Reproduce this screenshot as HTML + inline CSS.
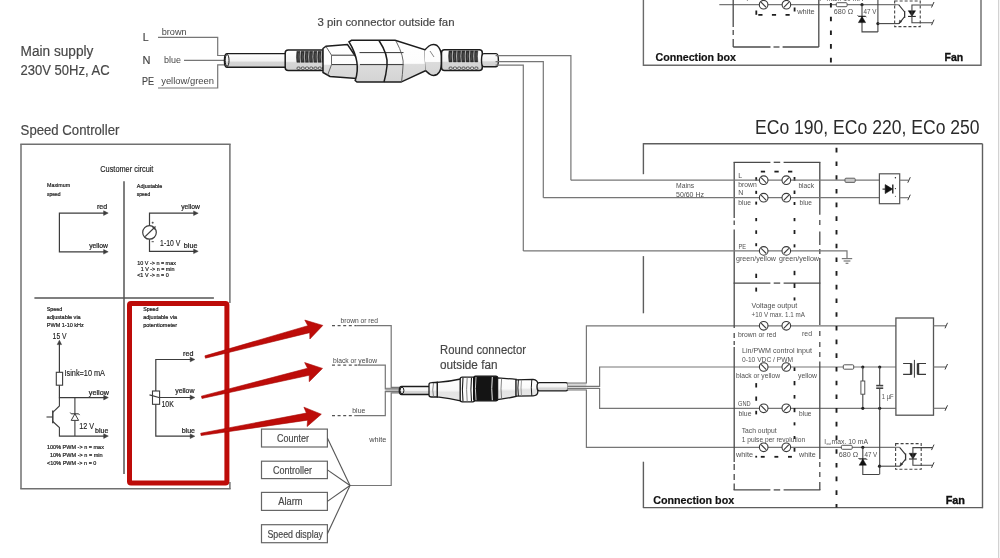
<!DOCTYPE html>
<html><head><meta charset="utf-8"><style>
html,body{margin:0;padding:0;background:#fff;width:1000px;height:558px;overflow:hidden}
svg{display:block;font-family:"Liberation Sans",sans-serif;will-change:transform}
</style></head><body>
<svg width="1000" height="558" viewBox="0 0 1000 558">
<defs>
<linearGradient id="gc" x1="0" y1="0" x2="0" y2="1">
<stop offset="0" stop-color="#ffffff"/><stop offset="0.55" stop-color="#f2f2f2"/><stop offset="0.62" stop-color="#d6d6d6"/><stop offset="1" stop-color="#d0d0d0"/></linearGradient>
<linearGradient id="gn" x1="0" y1="0" x2="0" y2="1">
<stop offset="0" stop-color="#ffffff"/><stop offset="0.58" stop-color="#fdfdfd"/><stop offset="0.61" stop-color="#dedede"/><stop offset="1" stop-color="#d6d6d6"/></linearGradient>
<linearGradient id="gb2" x1="0" y1="0" x2="0" y2="1">
<stop offset="0" stop-color="#ffffff"/><stop offset="0.55" stop-color="#fdfdfd"/><stop offset="0.58" stop-color="#dcdcdc"/><stop offset="1" stop-color="#d4d4d4"/></linearGradient>
<linearGradient id="gb3" x1="0" y1="0" x2="0" y2="1">
<stop offset="0" stop-color="#ffffff"/><stop offset="0.5" stop-color="#fafafa"/><stop offset="0.62" stop-color="#e4e4e4"/><stop offset="1" stop-color="#e8e8e8"/></linearGradient>
<linearGradient id="gb" x1="0" y1="0" x2="0" y2="1">
<stop offset="0" stop-color="#ffffff"/><stop offset="0.58" stop-color="#fbfbfb"/><stop offset="0.6" stop-color="#dadada"/><stop offset="1" stop-color="#d2d2d2"/></linearGradient>
</defs>
<rect width="1000" height="558" fill="#fff"/>
<text x="20.6" y="56" font-size="14" fill="#474747" textLength="72.8" lengthAdjust="spacingAndGlyphs" stroke="#474747" stroke-width="0.18">Main supply</text>
<text x="20.6" y="74.6" font-size="14" fill="#474747" textLength="89" lengthAdjust="spacingAndGlyphs" stroke="#474747" stroke-width="0.18">230V 50Hz, AC</text>
<text x="20.6" y="134.8" font-size="14" fill="#474747" textLength="98.8" lengthAdjust="spacingAndGlyphs" stroke="#474747" stroke-width="0.18">Speed Controller</text>
<text x="142.8" y="40.8" font-size="10.5" fill="#474747" stroke="#474747" stroke-width="0.18">L</text>
<text x="142.6" y="63.5" font-size="11" fill="#474747" stroke="#474747" stroke-width="0.18">N</text>
<text x="142" y="84.8" font-size="11.5" fill="#474747" textLength="12" lengthAdjust="spacingAndGlyphs" stroke="#474747" stroke-width="0.18">PE</text>
<text x="161.7" y="35" font-size="9" fill="#474747" textLength="25" lengthAdjust="spacingAndGlyphs">brown</text>
<text x="164" y="62.8" font-size="9" fill="#474747" textLength="17" lengthAdjust="spacingAndGlyphs">blue</text>
<text x="161.2" y="84.3" font-size="9" fill="#474747" textLength="52.8" lengthAdjust="spacingAndGlyphs">yellow/green</text>
<polyline points="158,37.3 217.7,37.3 217.7,55.5 225,55.5" fill="none" stroke="#767676" stroke-width="1.2"/>
<line x1="184" y1="60.3" x2="225" y2="60.3" stroke="#767676" stroke-width="1.2"/>
<polyline points="158,88 217.7,88 217.7,64.8 225,64.8" fill="none" stroke="#767676" stroke-width="1.2"/>
<text x="317.5" y="26.4" font-size="11.2" fill="#474747" textLength="137" lengthAdjust="spacingAndGlyphs" stroke="#474747" stroke-width="0.18">3 pin connector outside fan</text>
<polyline points="643.4,0 643.4,65.3 981,65.3 981,0" fill="none" stroke="#6a6a6a" stroke-width="1.4"/>
<text x="755" y="134" font-size="20" fill="#2b2b2b" textLength="224.6" lengthAdjust="spacingAndGlyphs">ECo 190, ECo 220, ECo 250</text>
<path d="M 288 53.6 L 226.8 53.6 A 2.4 6.8 0 0 0 226.8 67.2 L 288 67.2 Z" fill="url(#gc)" stroke="#1c1c1c" stroke-width="1.4"/>
<ellipse cx="227.1" cy="60.4" rx="1.92" ry="6" fill="none" stroke="#1c1c1c" stroke-width="1"/>
<rect x="285.2" y="50.1" width="42.3" height="20.3" rx="3" fill="url(#gc)" stroke="#1c1c1c" stroke-width="1.5"/>
<path d="M 296.9 51.3 Q 296 56.6 296.9 62.3 L 300 62.3 Q 299.1 56.6 300 51.3 Z" fill="#333" stroke="#222" stroke-width="0.5"/>
<line x1="298.4" y1="53.1" x2="298.1" y2="60.6" stroke="#6a6a6a" stroke-width="0.5"/>
<rect x="297" y="67.1" width="3.05" height="2.2" rx="0.9" fill="#fff" stroke="#2a2a2a" stroke-width="0.8"/>
<path d="M 301.14 51.3 Q 300.24 56.6 301.14 62.3 L 304.24 62.3 Q 303.34 56.6 304.24 51.3 Z" fill="#333" stroke="#222" stroke-width="0.5"/>
<line x1="302.64" y1="53.1" x2="302.34" y2="60.6" stroke="#6a6a6a" stroke-width="0.5"/>
<rect x="301.24" y="67.1" width="3.05" height="2.2" rx="0.9" fill="#fff" stroke="#2a2a2a" stroke-width="0.8"/>
<path d="M 305.39 51.3 Q 304.49 56.6 305.39 62.3 L 308.49 62.3 Q 307.59 56.6 308.49 51.3 Z" fill="#333" stroke="#222" stroke-width="0.5"/>
<line x1="306.89" y1="53.1" x2="306.59" y2="60.6" stroke="#6a6a6a" stroke-width="0.5"/>
<rect x="305.49" y="67.1" width="3.05" height="2.2" rx="0.9" fill="#fff" stroke="#2a2a2a" stroke-width="0.8"/>
<path d="M 309.63 51.3 Q 308.73 56.6 309.63 62.3 L 312.73 62.3 Q 311.83 56.6 312.73 51.3 Z" fill="#333" stroke="#222" stroke-width="0.5"/>
<line x1="311.13" y1="53.1" x2="310.83" y2="60.6" stroke="#6a6a6a" stroke-width="0.5"/>
<rect x="309.73" y="67.1" width="3.05" height="2.2" rx="0.9" fill="#fff" stroke="#2a2a2a" stroke-width="0.8"/>
<path d="M 313.87 51.3 Q 312.97 56.6 313.87 62.3 L 316.97 62.3 Q 316.07 56.6 316.97 51.3 Z" fill="#333" stroke="#222" stroke-width="0.5"/>
<line x1="315.37" y1="53.1" x2="315.07" y2="60.6" stroke="#6a6a6a" stroke-width="0.5"/>
<rect x="313.97" y="67.1" width="3.05" height="2.2" rx="0.9" fill="#fff" stroke="#2a2a2a" stroke-width="0.8"/>
<path d="M 318.11 51.3 Q 317.21 56.6 318.11 62.3 L 321.21 62.3 Q 320.31 56.6 321.21 51.3 Z" fill="#333" stroke="#222" stroke-width="0.5"/>
<line x1="319.61" y1="53.1" x2="319.31" y2="60.6" stroke="#6a6a6a" stroke-width="0.5"/>
<rect x="318.21" y="67.1" width="3.05" height="2.2" rx="0.9" fill="#fff" stroke="#2a2a2a" stroke-width="0.8"/>
<path d="M 322.36 51.3 Q 321.46 56.6 322.36 62.3 L 325.46 62.3 Q 324.56 56.6 325.46 51.3 Z" fill="#333" stroke="#222" stroke-width="0.5"/>
<line x1="323.86" y1="53.1" x2="323.56" y2="60.6" stroke="#6a6a6a" stroke-width="0.5"/>
<rect x="322.46" y="67.1" width="3.05" height="2.2" rx="0.9" fill="#fff" stroke="#2a2a2a" stroke-width="0.8"/>
<polygon points="323,48.5 326,46.2 347.5,44.5 360,63 356.5,78.5 330,76.5 323,72.5" fill="url(#gn)" stroke="#1c1c1c" stroke-width="1.5"/>
<line x1="331.5" y1="55.2" x2="359" y2="55.2" stroke="#333" stroke-width="1"/>
<line x1="331.5" y1="64.6" x2="359.5" y2="64.6" stroke="#333" stroke-width="1"/>
<polyline points="326,46.5 331.5,55.2 331.5,64.6 327.5,75.5" fill="none" stroke="#555" stroke-width="0.9"/>
<path d="M 349 41.8 L 351.5 40.3 L 395.1 40.3 L 425.1 49.9 L 426 70.5 L 401 82.1 L 357 82.1 L 355.2 80.6 Q 361.5 62 349 41.8 Z" fill="url(#gb2)" stroke="#1c1c1c" stroke-width="1.5"/>
<line x1="359.5" y1="52.6" x2="403.5" y2="52.6" stroke="#333" stroke-width="1"/>
<line x1="360" y1="64.6" x2="403.5" y2="64.6" stroke="#333" stroke-width="1"/>
<path d="M 379 40.5 Q 388.5 55 387 66 Q 386 75 384 82" fill="none" stroke="#1c1c1c" stroke-width="1.5"/>
<path d="M 396 41 Q 404.5 57 403 66 Q 402.5 75 401.5 82" fill="none" stroke="#555" stroke-width="0.9"/>
<path d="M 424.5 50.2 Q 427 47.6 429 46 Q 433 43.2 437 45.5 Q 441 49 441.5 56 L 441.5 64 Q 441 72 437 74.5 Q 433 76.5 429.5 74 Q 427.5 72.7 425.5 70.6" fill="url(#gb2)" stroke="#1c1c1c" stroke-width="1.5"/>
<line x1="430" y1="51" x2="434" y2="57" stroke="#666" stroke-width="0.8"/>
<rect x="441.5" y="49.7" width="40.8" height="20.7" rx="3" fill="url(#gc)" stroke="#1c1c1c" stroke-width="1.5"/>
<path d="M 449 50.9 Q 448.1 56.2 449 61.9 L 452.1 61.9 Q 451.2 56.2 452.1 50.9 Z" fill="#333" stroke="#222" stroke-width="0.5"/>
<line x1="450.5" y1="52.7" x2="450.2" y2="60.2" stroke="#6a6a6a" stroke-width="0.5"/>
<rect x="449.1" y="67.1" width="3.09" height="2.2" rx="0.9" fill="#fff" stroke="#2a2a2a" stroke-width="0.8"/>
<path d="M 453.29 50.9 Q 452.39 56.2 453.29 61.9 L 456.39 61.9 Q 455.49 56.2 456.39 50.9 Z" fill="#333" stroke="#222" stroke-width="0.5"/>
<line x1="454.79" y1="52.7" x2="454.49" y2="60.2" stroke="#6a6a6a" stroke-width="0.5"/>
<rect x="453.39" y="67.1" width="3.09" height="2.2" rx="0.9" fill="#fff" stroke="#2a2a2a" stroke-width="0.8"/>
<path d="M 457.57 50.9 Q 456.67 56.2 457.57 61.9 L 460.67 61.9 Q 459.77 56.2 460.67 50.9 Z" fill="#333" stroke="#222" stroke-width="0.5"/>
<line x1="459.07" y1="52.7" x2="458.77" y2="60.2" stroke="#6a6a6a" stroke-width="0.5"/>
<rect x="457.67" y="67.1" width="3.09" height="2.2" rx="0.9" fill="#fff" stroke="#2a2a2a" stroke-width="0.8"/>
<path d="M 461.86 50.9 Q 460.96 56.2 461.86 61.9 L 464.96 61.9 Q 464.06 56.2 464.96 50.9 Z" fill="#333" stroke="#222" stroke-width="0.5"/>
<line x1="463.36" y1="52.7" x2="463.06" y2="60.2" stroke="#6a6a6a" stroke-width="0.5"/>
<rect x="461.96" y="67.1" width="3.09" height="2.2" rx="0.9" fill="#fff" stroke="#2a2a2a" stroke-width="0.8"/>
<path d="M 466.14 50.9 Q 465.24 56.2 466.14 61.9 L 469.24 61.9 Q 468.34 56.2 469.24 50.9 Z" fill="#333" stroke="#222" stroke-width="0.5"/>
<line x1="467.64" y1="52.7" x2="467.34" y2="60.2" stroke="#6a6a6a" stroke-width="0.5"/>
<rect x="466.24" y="67.1" width="3.09" height="2.2" rx="0.9" fill="#fff" stroke="#2a2a2a" stroke-width="0.8"/>
<path d="M 470.43 50.9 Q 469.53 56.2 470.43 61.9 L 473.53 61.9 Q 472.63 56.2 473.53 50.9 Z" fill="#333" stroke="#222" stroke-width="0.5"/>
<line x1="471.93" y1="52.7" x2="471.63" y2="60.2" stroke="#6a6a6a" stroke-width="0.5"/>
<rect x="470.53" y="67.1" width="3.09" height="2.2" rx="0.9" fill="#fff" stroke="#2a2a2a" stroke-width="0.8"/>
<path d="M 474.71 50.9 Q 473.81 56.2 474.71 61.9 L 477.81 61.9 Q 476.91 56.2 477.81 50.9 Z" fill="#333" stroke="#222" stroke-width="0.5"/>
<line x1="476.21" y1="52.7" x2="475.91" y2="60.2" stroke="#6a6a6a" stroke-width="0.5"/>
<rect x="474.81" y="67.1" width="3.09" height="2.2" rx="0.9" fill="#fff" stroke="#2a2a2a" stroke-width="0.8"/>
<path d="M 496 53.6 L 483.9 53.6 A 2.4 6.6 0 0 0 483.9 66.8 L 496 66.8 A 2.4 6.6 0 0 0 496 53.6 Z" fill="url(#gc)" stroke="#1c1c1c" stroke-width="1.4"/>
<polyline points="495.6,55.6 570.9,55.6 570.9,180.2" fill="none" stroke="#767676" stroke-width="1.2"/>
<polyline points="495.6,61.6 543.3,61.6 543.3,197.7" fill="none" stroke="#767676" stroke-width="1.2"/>
<polyline points="495.6,65.2 523.3,65.2 523.3,250.9" fill="none" stroke="#767676" stroke-width="1.2"/>
<rect x="385.3" y="387.3" width="14.5" height="5.5" fill="#d6d6d6" stroke="none" stroke-width="0"/>
<polyline points="356.4,325.6 391.2,325.6 391.2,387.3 400,387.3" fill="none" stroke="#767676" stroke-width="1.2"/>
<polyline points="358,365.2 385.3,365.2 385.3,388.8 400,388.8" fill="none" stroke="#767676" stroke-width="1.2"/>
<polyline points="355,415.6 385.3,415.6 385.3,391.4 400,391.4" fill="none" stroke="#767676" stroke-width="1.2"/>
<polyline points="350,485.5 391.2,485.5 391.2,392.8 400,392.8" fill="none" stroke="#767676" stroke-width="1.2"/>
<path d="M 430 386.5 L 401.7 386.5 A 2.4 4 0 0 0 401.7 394.5 L 430 394.5 Z" fill="url(#gc)" stroke="#1c1c1c" stroke-width="1.4"/>
<ellipse cx="402" cy="390.5" rx="1.92" ry="3.2" fill="none" stroke="#1c1c1c" stroke-width="1"/>
<path d="M 429 384.6 Q 429 382.7 431.5 382.7 L 437.5 382.3 L 437.5 397 L 431.5 397 Q 429 397 429 395 Z" fill="url(#gb3)" stroke="#1c1c1c" stroke-width="1.3"/>
<path d="M 433.5 383 Q 432 390 433.5 396.8" fill="none" stroke="#666" stroke-width="0.8"/>
<path d="M 437.3 382.3 Q 450 381.5 460.6 379 L 460.6 400.8 Q 450 398.5 437.3 396.8 Z" fill="url(#gb3)" stroke="#1c1c1c" stroke-width="1.3"/>
<rect x="460.2" y="377.2" width="14.5" height="24.6" rx="2" fill="#fbfbfb" stroke="#1c1c1c" stroke-width="1.3"/>
<path d="M 463 377.6 Q 461.8 389.5 463 401.4" fill="none" stroke="#1c1c1c" stroke-width="1.1"/>
<path d="M 467.2 377.6 Q 466 389.5 467.2 401.4" fill="none" stroke="#777" stroke-width="0.9"/>
<path d="M 471.5 377.6 Q 470.3 389.5 471.5 401.4" fill="none" stroke="#1c1c1c" stroke-width="1.1"/>
<rect x="473.6" y="376.2" width="24.2" height="24.6" rx="2" fill="#141414" stroke="#111" stroke-width="1.2"/>
<path d="M 476 377 Q 474.8 388.5 476 400.2" fill="none" stroke="#e0e0e0" stroke-width="0.9"/>
<path d="M 492.3 377 Q 491.2 388.5 492.3 400.2" fill="none" stroke="#eeeeee" stroke-width="1.0"/>
<path d="M 497.6 377.8 Q 507 378.5 516.3 379.4 L 516.3 396.4 Q 507 398.5 497.6 399.6 Z" fill="url(#gb3)" stroke="#1c1c1c" stroke-width="1.3"/>
<path d="M 501.6 378.4 Q 500.4 389 501.6 399.2" fill="none" stroke="#666" stroke-width="0.8"/>
<path d="M 516 379.8 L 533 379.4 Q 537.8 380 537.8 384 L 537.8 392 Q 537.8 395.6 533 395.8 L 516 396.2 Z" fill="url(#gb3)" stroke="#1c1c1c" stroke-width="1.3"/>
<path d="M 518.4 379.9 Q 517.4 388 518.4 396" fill="none" stroke="#1c1c1c" stroke-width="1.0"/>
<path d="M 521.5 379.9 Q 520.5 388 521.5 396" fill="none" stroke="#888" stroke-width="0.8"/>
<path d="M 531.8 379.6 Q 530.8 388 531.8 395.8" fill="none" stroke="#1c1c1c" stroke-width="1.0"/>
<path d="M 565.8 382.6 L 539.4 382.6 A 2.4 4.15 0 0 0 539.4 390.9 L 565.8 390.9 A 2.4 4.15 0 0 0 565.8 382.6 Z" fill="url(#gc)" stroke="#1c1c1c" stroke-width="1.4"/>
<rect x="567.5" y="383" width="18.9" height="7" fill="#d8d8d8" stroke="none" stroke-width="0"/>
<rect x="586" y="386.3" width="13.6" height="2.2" fill="#e2e2e2" stroke="none" stroke-width="0"/>
<polyline points="567.5,383 586.4,383 586.4,325.8 896,325.8" fill="none" stroke="#767676" stroke-width="1.2"/>
<polyline points="567.5,386.3 599.6,386.3 599.6,367 896,367" fill="none" stroke="#767676" stroke-width="1.2"/>
<polyline points="567.5,388.5 599.6,388.5 599.6,408.3 896,408.3" fill="none" stroke="#767676" stroke-width="1.2"/>
<polyline points="567.5,390 586.4,390 586.4,447.3 896,447.3" fill="none" stroke="#767676" stroke-width="1.2"/>
<text x="440" y="353.7" font-size="12.3" fill="#474747" textLength="86" lengthAdjust="spacingAndGlyphs" stroke="#474747" stroke-width="0.18">Round connector</text>
<text x="440" y="368.5" font-size="12.3" fill="#474747" textLength="57.5" lengthAdjust="spacingAndGlyphs" stroke="#474747" stroke-width="0.18">outside fan</text>
<line x1="20.25" y1="144.3" x2="230.65" y2="144.3" stroke="#707070" stroke-width="1.5"/>
<line x1="21" y1="144.3" x2="21" y2="488.7" stroke="#707070" stroke-width="1.5"/>
<line x1="20.25" y1="488.7" x2="230.65" y2="488.7" stroke="#707070" stroke-width="1.5"/>
<line x1="229.9" y1="144.3" x2="229.9" y2="303" stroke="#707070" stroke-width="1.5"/>
<line x1="229.9" y1="482" x2="229.9" y2="488.7" stroke="#707070" stroke-width="1.5"/>
<text x="100.3" y="171.6" font-size="8.6" fill="#1c1c1c" textLength="53.1" lengthAdjust="spacingAndGlyphs" stroke="#1c1c1c" stroke-width="0.15">Customer circuit</text>
<line x1="124" y1="181.2" x2="124" y2="474" stroke="#555" stroke-width="1.5"/>
<line x1="34.4" y1="298.1" x2="213.9" y2="298.1" stroke="#555" stroke-width="1.5"/>
<text x="47" y="187.4" font-size="6.2" fill="#1c1c1c" textLength="23.2" lengthAdjust="spacingAndGlyphs" stroke="#1c1c1c" stroke-width="0.22">Maximum</text>
<text x="47" y="195.6" font-size="6.2" fill="#1c1c1c" textLength="13.5" lengthAdjust="spacingAndGlyphs" stroke="#1c1c1c" stroke-width="0.22">speed</text>
<text x="136.8" y="187.6" font-size="6.2" fill="#1c1c1c" textLength="25.5" lengthAdjust="spacingAndGlyphs" stroke="#1c1c1c" stroke-width="0.22">Adjustable</text>
<text x="136.8" y="195.6" font-size="6.2" fill="#1c1c1c" textLength="13.5" lengthAdjust="spacingAndGlyphs" stroke="#1c1c1c" stroke-width="0.22">speed</text>
<polyline points="104.5,213.1 59.4,213.1 59.4,251.8 104.5,251.8" fill="none" stroke="#3c3c3c" stroke-width="1.2"/>
<polygon points="108.2,213.1 103.6,210.8 103.6,215.4" fill="#3c3c3c" stroke="#3c3c3c" stroke-width="0.5"/>
<polygon points="108.2,251.8 103.6,249.5 103.6,254.1" fill="#3c3c3c" stroke="#3c3c3c" stroke-width="0.5"/>
<text x="97" y="208.6" font-size="7.2" fill="#1c1c1c" textLength="10.2" lengthAdjust="spacingAndGlyphs" stroke="#1c1c1c" stroke-width="0.22">red</text>
<text x="89.2" y="247.8" font-size="7.2" fill="#1c1c1c" textLength="18.8" lengthAdjust="spacingAndGlyphs" stroke="#1c1c1c" stroke-width="0.22">yellow</text>
<polyline points="194.5,213.2 149.5,213.2 149.5,225.6" fill="none" stroke="#3c3c3c" stroke-width="1.2"/>
<polyline points="149.5,239.2 149.5,251.3 194.5,251.3" fill="none" stroke="#3c3c3c" stroke-width="1.2"/>
<polygon points="198.2,213.2 193.6,210.9 193.6,215.5" fill="#3c3c3c" stroke="#3c3c3c" stroke-width="0.5"/>
<polygon points="198.2,251.3 193.6,249 193.6,253.6" fill="#3c3c3c" stroke="#3c3c3c" stroke-width="0.5"/>
<circle cx="149.5" cy="232.4" r="6.8" fill="#fff" stroke="#3c3c3c" stroke-width="1.2"/>
<line x1="145.1" y1="236.6" x2="154.5" y2="227.5" stroke="#3c3c3c" stroke-width="1.2"/>
<polygon points="155.6,226.4 152.4,227.4 154.6,229.6" fill="#3c3c3c" stroke="#3c3c3c" stroke-width="0.4"/>
<line x1="151.7" y1="222.7" x2="153.7" y2="222.7" stroke="#3c3c3c" stroke-width="0.8"/>
<line x1="152.7" y1="221.7" x2="152.7" y2="223.7" stroke="#3c3c3c" stroke-width="0.8"/>
<line x1="151.6" y1="241.7" x2="153.8" y2="241.7" stroke="#3c3c3c" stroke-width="0.9"/>
<text x="181.2" y="208.8" font-size="7.2" fill="#1c1c1c" textLength="18.7" lengthAdjust="spacingAndGlyphs" stroke="#1c1c1c" stroke-width="0.22">yellow</text>
<text x="160.1" y="245.6" font-size="9.2" fill="#1c1c1c" textLength="20.1" lengthAdjust="spacingAndGlyphs" stroke="#1c1c1c" stroke-width="0.15">1-10 V</text>
<text x="183.8" y="248.1" font-size="7.2" fill="#1c1c1c" textLength="13.6" lengthAdjust="spacingAndGlyphs" stroke="#1c1c1c" stroke-width="0.22">blue</text>
<text x="137.2" y="264.6" font-size="6.2" fill="#1c1c1c" textLength="38.7" lengthAdjust="spacingAndGlyphs" stroke="#1c1c1c" stroke-width="0.22">10 V -&gt; n = max</text>
<text x="140.8" y="271" font-size="6.2" fill="#1c1c1c" textLength="33.7" lengthAdjust="spacingAndGlyphs" stroke="#1c1c1c" stroke-width="0.22">1 V -&gt; n = min</text>
<text x="137.2" y="277" font-size="6.2" fill="#1c1c1c" textLength="31.5" lengthAdjust="spacingAndGlyphs" stroke="#1c1c1c" stroke-width="0.22">&lt;1 V -&gt; n = 0</text>
<text x="46.8" y="311.3" font-size="6.2" fill="#1c1c1c" textLength="15.3" lengthAdjust="spacingAndGlyphs" stroke="#1c1c1c" stroke-width="0.22">Speed</text>
<text x="46.8" y="319.4" font-size="6.2" fill="#1c1c1c" textLength="33.9" lengthAdjust="spacingAndGlyphs" stroke="#1c1c1c" stroke-width="0.22">adjustable via</text>
<text x="46.8" y="327.3" font-size="6.2" fill="#1c1c1c" textLength="37" lengthAdjust="spacingAndGlyphs" stroke="#1c1c1c" stroke-width="0.22">PWM 1-10 kHz</text>
<text x="52.6" y="338.8" font-size="9.2" fill="#1c1c1c" textLength="14" lengthAdjust="spacingAndGlyphs" stroke="#1c1c1c" stroke-width="0.15">15 V</text>
<line x1="59.4" y1="344" x2="59.4" y2="372.3" stroke="#3c3c3c" stroke-width="1.2"/>
<polygon points="59.4,340.2 57.2,344.6 61.6,344.6" fill="#3c3c3c" stroke="#3c3c3c" stroke-width="0.5"/>
<rect x="56.3" y="372.3" width="6.3" height="12.9" fill="#fff" stroke="#3c3c3c" stroke-width="1.1"/>
<text x="64.5" y="375.8" font-size="9.2" fill="#1c1c1c" textLength="40.5" lengthAdjust="spacingAndGlyphs" stroke="#1c1c1c" stroke-width="0.15">Isink=10 mA</text>
<polyline points="59.4,385.2 59.4,397.6 104.5,397.6" fill="none" stroke="#3c3c3c" stroke-width="1.2"/>
<polygon points="108.3,397.6 103.7,395.3 103.7,399.9" fill="#3c3c3c" stroke="#3c3c3c" stroke-width="0.5"/>
<text x="88.8" y="394.8" font-size="7.2" fill="#1c1c1c" textLength="20.1" lengthAdjust="spacingAndGlyphs" stroke="#1c1c1c" stroke-width="0.22">yellow</text>
<line x1="52.8" y1="410.6" x2="52.8" y2="423.2" stroke="#3c3c3c" stroke-width="1.5"/>
<line x1="46.5" y1="417" x2="52.8" y2="417" stroke="#3c3c3c" stroke-width="1.1"/>
<polyline points="59.4,397.6 59.4,406 52.8,412.3" fill="none" stroke="#3c3c3c" stroke-width="1.1"/>
<polyline points="52.8,421.5 59.4,427.5 59.4,436.1 104.5,436.1" fill="none" stroke="#3c3c3c" stroke-width="1.1"/>
<polygon points="108.3,436.1 103.7,433.8 103.7,438.4" fill="#3c3c3c" stroke="#3c3c3c" stroke-width="0.5"/>
<line x1="74.9" y1="397.6" x2="74.9" y2="436.1" stroke="#3c3c3c" stroke-width="1.1"/>
<polygon points="74.9,413.8 71.2,420.4 78.6,420.4" fill="#fff" stroke="#3c3c3c" stroke-width="1"/>
<polyline points="71.2,413.8 78.6,413.8" fill="none" stroke="#3c3c3c" stroke-width="1.1"/>
<line x1="71.2" y1="413.8" x2="70.2" y2="412.5" stroke="#3c3c3c" stroke-width="1"/>
<line x1="78.6" y1="413.8" x2="79.6" y2="415.1" stroke="#3c3c3c" stroke-width="1"/>
<text x="79.3" y="428.6" font-size="9.2" fill="#1c1c1c" textLength="14.8" lengthAdjust="spacingAndGlyphs" stroke="#1c1c1c" stroke-width="0.15">12 V</text>
<text x="95" y="433.2" font-size="7.2" fill="#1c1c1c" textLength="13.3" lengthAdjust="spacingAndGlyphs" stroke="#1c1c1c" stroke-width="0.22">blue</text>
<text x="47" y="449.4" font-size="6.2" fill="#1c1c1c" textLength="56.9" lengthAdjust="spacingAndGlyphs" stroke="#1c1c1c" stroke-width="0.22">100% PWM -&gt; n = max</text>
<text x="49.9" y="457" font-size="6.2" fill="#1c1c1c" textLength="52.8" lengthAdjust="spacingAndGlyphs" stroke="#1c1c1c" stroke-width="0.22">10% PWM -&gt; n = min</text>
<text x="47" y="464.5" font-size="6.2" fill="#1c1c1c" textLength="49.4" lengthAdjust="spacingAndGlyphs" stroke="#1c1c1c" stroke-width="0.22">&lt;10% PWM -&gt; n = 0</text>
<text x="143.2" y="311.2" font-size="6.2" fill="#1c1c1c" textLength="15.3" lengthAdjust="spacingAndGlyphs" stroke="#1c1c1c" stroke-width="0.22">Speed</text>
<text x="143.2" y="319.4" font-size="6.2" fill="#1c1c1c" textLength="33.8" lengthAdjust="spacingAndGlyphs" stroke="#1c1c1c" stroke-width="0.22">adjustable via</text>
<text x="143.2" y="326.5" font-size="6.2" fill="#1c1c1c" textLength="33.8" lengthAdjust="spacingAndGlyphs" stroke="#1c1c1c" stroke-width="0.22">potentiometer</text>
<polyline points="191,359.5 155.8,359.5 155.8,391.5" fill="none" stroke="#3c3c3c" stroke-width="1.2"/>
<polyline points="155.8,404 155.8,436.2 191,436.2" fill="none" stroke="#3c3c3c" stroke-width="1.2"/>
<line x1="155.8" y1="397.5" x2="191" y2="397.5" stroke="#3c3c3c" stroke-width="1.2"/>
<polygon points="194.8,359.5 190.2,357.2 190.2,361.8" fill="#3c3c3c" stroke="#3c3c3c" stroke-width="0.5"/>
<polygon points="194.8,397.5 190.2,395.2 190.2,399.8" fill="#3c3c3c" stroke="#3c3c3c" stroke-width="0.5"/>
<polygon points="194.8,436.2 190.2,433.9 190.2,438.5" fill="#3c3c3c" stroke="#3c3c3c" stroke-width="0.5"/>
<rect x="152.5" y="391" width="7.1" height="13.3" fill="#fff" stroke="#3c3c3c" stroke-width="1.1"/>
<line x1="149.5" y1="394.9" x2="159.8" y2="397.8" stroke="#3c3c3c" stroke-width="1.1"/>
<text x="183.1" y="355.7" font-size="7.2" fill="#1c1c1c" textLength="10.3" lengthAdjust="spacingAndGlyphs" stroke="#1c1c1c" stroke-width="0.22">red</text>
<text x="175.2" y="393.4" font-size="7.2" fill="#1c1c1c" textLength="19.3" lengthAdjust="spacingAndGlyphs" stroke="#1c1c1c" stroke-width="0.22">yellow</text>
<text x="161.5" y="407.2" font-size="8.4" fill="#1c1c1c" textLength="12.3" lengthAdjust="spacingAndGlyphs" stroke="#1c1c1c" stroke-width="0.15">10K</text>
<text x="181.7" y="432.6" font-size="7.2" fill="#1c1c1c" textLength="13.3" lengthAdjust="spacingAndGlyphs" stroke="#1c1c1c" stroke-width="0.22">blue</text>
<rect x="129.5" y="303.5" width="97.4" height="179.4" fill="none" stroke="#bd0c09" stroke-width="5" rx="1.5"/>
<polygon points="205.51,358.16 309.73,332.64 309.89,339.02 322.8,325.4 304.8,320.09 307.86,325.69 204.89,355.84" fill="#bd0c09" stroke="#a80805" stroke-width="0.6" stroke-linejoin="round"/>
<polygon points="201.98,398.47 309.24,375.27 309.22,381.65 322.5,368.4 304.66,362.59 307.56,368.27 201.42,396.13" fill="#bd0c09" stroke="#a80805" stroke-width="0.6" stroke-linejoin="round"/>
<polygon points="201.1,435.58 307.6,420.15 307.14,426.51 321.3,414.2 303.9,407.18 306.4,413.05 200.7,433.22" fill="#bd0c09" stroke="#a80805" stroke-width="0.6" stroke-linejoin="round"/>
<line x1="332" y1="325.6" x2="356.4" y2="325.6" stroke="#555" stroke-width="1.3" stroke-dasharray="3 2.6"/>
<line x1="332" y1="365.2" x2="358" y2="365.2" stroke="#555" stroke-width="1.3" stroke-dasharray="3 2.6"/>
<line x1="332" y1="415.6" x2="355" y2="415.6" stroke="#555" stroke-width="1.3" stroke-dasharray="3 2.6"/>
<text x="340.5" y="323.1" font-size="7.6" fill="#474747" textLength="37.5" lengthAdjust="spacingAndGlyphs">brown or red</text>
<text x="333" y="362.7" font-size="7.6" fill="#474747" textLength="44" lengthAdjust="spacingAndGlyphs">black or yellow</text>
<text x="352.3" y="413.2" font-size="7.6" fill="#474747" textLength="13" lengthAdjust="spacingAndGlyphs">blue</text>
<text x="369.2" y="442" font-size="7.2" fill="#474747" textLength="17.2" lengthAdjust="spacingAndGlyphs">white</text>
<rect x="261.5" y="429.1" width="65.9" height="17.9" fill="none" stroke="#666" stroke-width="1.2"/>
<text x="277" y="441.85" font-size="10.2" fill="#474747" textLength="32" lengthAdjust="spacingAndGlyphs" stroke="#474747" stroke-width="0.18">Counter</text>
<line x1="327.4" y1="438.05" x2="350" y2="485.5" stroke="#555" stroke-width="1.1"/>
<rect x="261.5" y="461.2" width="65.9" height="17.4" fill="none" stroke="#666" stroke-width="1.2"/>
<text x="273" y="473.7" font-size="10.2" fill="#474747" textLength="39" lengthAdjust="spacingAndGlyphs" stroke="#474747" stroke-width="0.18">Controller</text>
<line x1="327.4" y1="469.9" x2="350" y2="485.5" stroke="#555" stroke-width="1.1"/>
<rect x="261.5" y="492.4" width="65.9" height="18" fill="none" stroke="#666" stroke-width="1.2"/>
<text x="278.2" y="505.2" font-size="10.2" fill="#474747" textLength="24.4" lengthAdjust="spacingAndGlyphs" stroke="#474747" stroke-width="0.18">Alarm</text>
<line x1="327.4" y1="501.4" x2="350" y2="485.5" stroke="#555" stroke-width="1.1"/>
<rect x="261.5" y="524.7" width="65.9" height="18" fill="none" stroke="#666" stroke-width="1.2"/>
<text x="267.4" y="537.5" font-size="10.2" fill="#474747" textLength="55.6" lengthAdjust="spacingAndGlyphs" stroke="#474747" stroke-width="0.18">Speed display</text>
<line x1="327.4" y1="533.7" x2="350" y2="485.5" stroke="#555" stroke-width="1.1"/>
<line x1="643.4" y1="143.8" x2="982.5" y2="143.8" stroke="#5e5e5e" stroke-width="1.4"/>
<line x1="982.5" y1="143.8" x2="982.5" y2="508.3" stroke="#5e5e5e" stroke-width="1.4"/>
<line x1="643.4" y1="507.6" x2="982.5" y2="507.6" stroke="#5e5e5e" stroke-width="1.4"/>
<line x1="643.4" y1="143.1" x2="643.4" y2="174.2" stroke="#5e5e5e" stroke-width="1.4"/>
<line x1="643.4" y1="256.1" x2="643.4" y2="313.3" stroke="#5e5e5e" stroke-width="1.4"/>
<line x1="643.4" y1="461.7" x2="643.4" y2="508.1" stroke="#5e5e5e" stroke-width="1.4"/>
<line x1="733.6" y1="162.3" x2="770.4" y2="162.3" stroke="#4a4a4a" stroke-width="1.3"/>
<line x1="773.7" y1="162.3" x2="780.2" y2="162.3" stroke="#4a4a4a" stroke-width="1.3"/>
<line x1="783.6" y1="162.3" x2="820.4" y2="162.3" stroke="#4a4a4a" stroke-width="1.3"/>
<line x1="733.6" y1="283.1" x2="770.4" y2="283.1" stroke="#4a4a4a" stroke-width="1.3"/>
<line x1="773.7" y1="283.1" x2="780.2" y2="283.1" stroke="#4a4a4a" stroke-width="1.3"/>
<line x1="783.6" y1="283.1" x2="820.4" y2="283.1" stroke="#4a4a4a" stroke-width="1.3"/>
<line x1="733.6" y1="489.9" x2="770.4" y2="489.9" stroke="#4a4a4a" stroke-width="1.3"/>
<line x1="773.7" y1="489.9" x2="780.2" y2="489.9" stroke="#4a4a4a" stroke-width="1.3"/>
<line x1="783.6" y1="489.9" x2="820.4" y2="489.9" stroke="#4a4a4a" stroke-width="1.3"/>
<line x1="734.2" y1="162.3" x2="734.2" y2="218" stroke="#4a4a4a" stroke-width="1.3"/>
<line x1="734.2" y1="220.6" x2="734.2" y2="225" stroke="#4a4a4a" stroke-width="1.3"/>
<line x1="734.2" y1="229.6" x2="734.2" y2="328" stroke="#4a4a4a" stroke-width="1.3"/>
<line x1="734.2" y1="333" x2="734.2" y2="338" stroke="#4a4a4a" stroke-width="1.3"/>
<line x1="734.2" y1="341" x2="734.2" y2="345" stroke="#4a4a4a" stroke-width="1.3"/>
<line x1="734.2" y1="347" x2="734.2" y2="462" stroke="#4a4a4a" stroke-width="1.3"/>
<line x1="734.2" y1="464" x2="734.2" y2="470" stroke="#4a4a4a" stroke-width="1.3"/>
<line x1="734.2" y1="474" x2="734.2" y2="480" stroke="#4a4a4a" stroke-width="1.3"/>
<line x1="734.2" y1="483.4" x2="734.2" y2="489.9" stroke="#4a4a4a" stroke-width="1.3"/>
<line x1="819.8" y1="162.3" x2="819.8" y2="214.8" stroke="#4a4a4a" stroke-width="1.3"/>
<line x1="819.8" y1="220" x2="819.8" y2="225" stroke="#4a4a4a" stroke-width="1.3"/>
<line x1="819.8" y1="231.6" x2="819.8" y2="245" stroke="#4a4a4a" stroke-width="1.3"/>
<line x1="819.8" y1="249" x2="819.8" y2="254" stroke="#4a4a4a" stroke-width="1.3"/>
<line x1="819.8" y1="258" x2="819.8" y2="325" stroke="#4a4a4a" stroke-width="1.3"/>
<line x1="819.8" y1="331" x2="819.8" y2="336" stroke="#4a4a4a" stroke-width="1.3"/>
<line x1="819.8" y1="342" x2="819.8" y2="347" stroke="#4a4a4a" stroke-width="1.3"/>
<line x1="819.8" y1="352" x2="819.8" y2="357" stroke="#4a4a4a" stroke-width="1.3"/>
<line x1="819.8" y1="361.6" x2="819.8" y2="459" stroke="#4a4a4a" stroke-width="1.3"/>
<line x1="819.8" y1="462" x2="819.8" y2="467" stroke="#4a4a4a" stroke-width="1.3"/>
<line x1="819.8" y1="472" x2="819.8" y2="477" stroke="#4a4a4a" stroke-width="1.3"/>
<line x1="819.8" y1="482" x2="819.8" y2="489.9" stroke="#4a4a4a" stroke-width="1.3"/>
<line x1="756.2" y1="177.2" x2="756.2" y2="180.8" stroke="#1e1e1e" stroke-width="1.8"/>
<line x1="756.2" y1="190.8" x2="756.2" y2="193.9" stroke="#1e1e1e" stroke-width="1.8"/>
<line x1="756.2" y1="201.6" x2="756.2" y2="204.6" stroke="#1e1e1e" stroke-width="1.8"/>
<line x1="756.2" y1="218" x2="756.2" y2="221.2" stroke="#1e1e1e" stroke-width="1.8"/>
<line x1="756.2" y1="230.3" x2="756.2" y2="233.9" stroke="#1e1e1e" stroke-width="1.8"/>
<line x1="756.2" y1="243.2" x2="756.2" y2="246.2" stroke="#1e1e1e" stroke-width="1.8"/>
<line x1="756.2" y1="273.7" x2="756.2" y2="278" stroke="#1e1e1e" stroke-width="1.8"/>
<line x1="756.2" y1="287.6" x2="756.2" y2="291.6" stroke="#1e1e1e" stroke-width="1.8"/>
<line x1="756.2" y1="383.1" x2="756.2" y2="387.5" stroke="#1e1e1e" stroke-width="1.8"/>
<line x1="756.2" y1="396.5" x2="756.2" y2="400.8" stroke="#1e1e1e" stroke-width="1.8"/>
<line x1="756.2" y1="410.8" x2="756.2" y2="414.4" stroke="#1e1e1e" stroke-width="1.8"/>
<line x1="756.2" y1="455.8" x2="756.2" y2="457.6" stroke="#1e1e1e" stroke-width="1.8"/>
<line x1="794.5" y1="177" x2="794.5" y2="181" stroke="#1e1e1e" stroke-width="1.8"/>
<line x1="794.5" y1="190.5" x2="794.5" y2="194" stroke="#1e1e1e" stroke-width="1.8"/>
<line x1="794.5" y1="202" x2="794.5" y2="205" stroke="#1e1e1e" stroke-width="1.8"/>
<line x1="794.5" y1="218" x2="794.5" y2="221.2" stroke="#1e1e1e" stroke-width="1.8"/>
<line x1="794.5" y1="230" x2="794.5" y2="234" stroke="#1e1e1e" stroke-width="1.8"/>
<line x1="794.5" y1="244.3" x2="794.5" y2="247.4" stroke="#1e1e1e" stroke-width="1.8"/>
<line x1="794.5" y1="270.8" x2="794.5" y2="275.2" stroke="#1e1e1e" stroke-width="1.8"/>
<line x1="794.5" y1="283.3" x2="794.5" y2="288" stroke="#1e1e1e" stroke-width="1.8"/>
<line x1="794.5" y1="297.4" x2="794.5" y2="300.5" stroke="#1e1e1e" stroke-width="1.8"/>
<line x1="794.5" y1="367.4" x2="794.5" y2="371" stroke="#1e1e1e" stroke-width="1.8"/>
<line x1="794.5" y1="381" x2="794.5" y2="385.3" stroke="#1e1e1e" stroke-width="1.8"/>
<line x1="794.5" y1="395" x2="794.5" y2="398.6" stroke="#1e1e1e" stroke-width="1.8"/>
<line x1="794.5" y1="408" x2="794.5" y2="412.2" stroke="#1e1e1e" stroke-width="1.8"/>
<line x1="794.5" y1="422.3" x2="794.5" y2="425.4" stroke="#1e1e1e" stroke-width="1.8"/>
<line x1="794.5" y1="436" x2="794.5" y2="439" stroke="#1e1e1e" stroke-width="1.8"/>
<line x1="794.5" y1="448" x2="794.5" y2="451.7" stroke="#1e1e1e" stroke-width="1.8"/>
<line x1="760.8" y1="171.6" x2="765.1" y2="171.6" stroke="#1e1e1e" stroke-width="1.8"/>
<line x1="760.8" y1="456.8" x2="764.7" y2="456.8" stroke="#1e1e1e" stroke-width="1.8"/>
<line x1="774.4" y1="171.6" x2="778.7" y2="171.6" stroke="#1e1e1e" stroke-width="1.8"/>
<line x1="774.4" y1="456.8" x2="778.3" y2="456.8" stroke="#1e1e1e" stroke-width="1.8"/>
<line x1="788" y1="171.6" x2="792.3" y2="171.6" stroke="#1e1e1e" stroke-width="1.8"/>
<line x1="788" y1="456.8" x2="791.9" y2="456.8" stroke="#1e1e1e" stroke-width="1.8"/>
<line x1="836.5" y1="143.8" x2="836.5" y2="507.4" stroke="#1e1e1e" stroke-width="1.9" stroke-dasharray="4.6 9.1" stroke-dashoffset="-4"/>
<line x1="570.9" y1="180.2" x2="879.4" y2="180.2" stroke="#767676" stroke-width="1.2"/>
<line x1="543.3" y1="197.7" x2="879.4" y2="197.7" stroke="#767676" stroke-width="1.2"/>
<polyline points="523.3,250.9 847,250.9 847,258.6" fill="none" stroke="#767676" stroke-width="1.2"/>
<line x1="841.8" y1="258.6" x2="852.2" y2="258.6" stroke="#777" stroke-width="1.2"/>
<line x1="843.6" y1="261" x2="850.4" y2="261" stroke="#777" stroke-width="1.2"/>
<line x1="845.6" y1="263.3" x2="848.4" y2="263.3" stroke="#777" stroke-width="1.2"/>
<rect x="845" y="178.2" width="10.2" height="4.2" fill="#c9c9c9" stroke="#555" stroke-width="0.9" rx="1"/>
<rect x="879.4" y="173.8" width="20.3" height="29.9" fill="#fff" stroke="#555" stroke-width="1.2"/>
<polygon points="885.2,184.6 885.2,193.6 892.6,189.1" fill="#111" stroke="#111" stroke-width="0.6"/>
<line x1="892.8" y1="184.6" x2="892.8" y2="193.6" stroke="#111" stroke-width="1.3"/>
<line x1="882.5" y1="189.1" x2="885.5" y2="189.1" stroke="#111" stroke-width="1"/>
<circle cx="895.4" cy="177.8" r="0.7" fill="#222"/>
<circle cx="895.4" cy="188.6" r="0.6" fill="#222"/>
<circle cx="895.4" cy="196.2" r="0.5" fill="#222"/>
<line x1="899.7" y1="180.2" x2="908.5" y2="180.2" stroke="#767676" stroke-width="1.2"/>
<line x1="907.8" y1="182.7" x2="910.3" y2="177.2" stroke="#3a3a3a" stroke-width="1"/>
<line x1="899.7" y1="197.7" x2="908.5" y2="197.7" stroke="#767676" stroke-width="1.2"/>
<line x1="907.8" y1="200.2" x2="910.3" y2="194.7" stroke="#3a3a3a" stroke-width="1"/>
<circle cx="763.7" cy="180.2" r="4.3" fill="#fff" stroke="#3a3a3a" stroke-width="1.1"/>
<line x1="761.1" y1="177.6" x2="766.3" y2="182.8" stroke="#3a3a3a" stroke-width="1.1"/>
<circle cx="786.3" cy="180.2" r="4.3" fill="#fff" stroke="#3a3a3a" stroke-width="1.1"/>
<line x1="783.7" y1="182.8" x2="788.9" y2="177.6" stroke="#3a3a3a" stroke-width="1.1"/>
<circle cx="763.7" cy="197.7" r="4.3" fill="#fff" stroke="#3a3a3a" stroke-width="1.1"/>
<line x1="761.1" y1="195.1" x2="766.3" y2="200.3" stroke="#3a3a3a" stroke-width="1.1"/>
<circle cx="786.3" cy="197.7" r="4.3" fill="#fff" stroke="#3a3a3a" stroke-width="1.1"/>
<line x1="783.7" y1="200.3" x2="788.9" y2="195.1" stroke="#3a3a3a" stroke-width="1.1"/>
<circle cx="763.7" cy="250.9" r="4.3" fill="#fff" stroke="#3a3a3a" stroke-width="1.1"/>
<line x1="761.1" y1="248.3" x2="766.3" y2="253.5" stroke="#3a3a3a" stroke-width="1.1"/>
<circle cx="786.3" cy="250.9" r="4.3" fill="#fff" stroke="#3a3a3a" stroke-width="1.1"/>
<line x1="783.7" y1="253.5" x2="788.9" y2="248.3" stroke="#3a3a3a" stroke-width="1.1"/>
<circle cx="763.7" cy="325.8" r="4.3" fill="#fff" stroke="#3a3a3a" stroke-width="1.1"/>
<line x1="761.1" y1="323.2" x2="766.3" y2="328.4" stroke="#3a3a3a" stroke-width="1.1"/>
<circle cx="786.3" cy="325.8" r="4.3" fill="#fff" stroke="#3a3a3a" stroke-width="1.1"/>
<line x1="783.7" y1="328.4" x2="788.9" y2="323.2" stroke="#3a3a3a" stroke-width="1.1"/>
<circle cx="763.7" cy="367" r="4.3" fill="#fff" stroke="#3a3a3a" stroke-width="1.1"/>
<line x1="761.1" y1="364.4" x2="766.3" y2="369.6" stroke="#3a3a3a" stroke-width="1.1"/>
<circle cx="786.3" cy="367" r="4.3" fill="#fff" stroke="#3a3a3a" stroke-width="1.1"/>
<line x1="783.7" y1="369.6" x2="788.9" y2="364.4" stroke="#3a3a3a" stroke-width="1.1"/>
<circle cx="763.7" cy="408.3" r="4.3" fill="#fff" stroke="#3a3a3a" stroke-width="1.1"/>
<line x1="761.1" y1="405.7" x2="766.3" y2="410.9" stroke="#3a3a3a" stroke-width="1.1"/>
<circle cx="786.3" cy="408.3" r="4.3" fill="#fff" stroke="#3a3a3a" stroke-width="1.1"/>
<line x1="783.7" y1="410.9" x2="788.9" y2="405.7" stroke="#3a3a3a" stroke-width="1.1"/>
<circle cx="763.7" cy="447.3" r="4.3" fill="#fff" stroke="#3a3a3a" stroke-width="1.1"/>
<line x1="761.1" y1="444.7" x2="766.3" y2="449.9" stroke="#3a3a3a" stroke-width="1.1"/>
<circle cx="786.3" cy="447.3" r="4.3" fill="#fff" stroke="#3a3a3a" stroke-width="1.1"/>
<line x1="783.7" y1="449.9" x2="788.9" y2="444.7" stroke="#3a3a3a" stroke-width="1.1"/>
<text x="676" y="187.9" font-size="7.2" fill="#505050" textLength="18.2" lengthAdjust="spacingAndGlyphs">Mains</text>
<text x="676" y="197.1" font-size="7.2" fill="#505050" textLength="28" lengthAdjust="spacingAndGlyphs">50/60 Hz</text>
<text x="738.3" y="177.6" font-size="7" fill="#505050">L</text>
<text x="738.3" y="186.7" font-size="7" fill="#505050" textLength="18.5" lengthAdjust="spacingAndGlyphs">brown</text>
<text x="738.3" y="194.8" font-size="7" fill="#505050">N</text>
<text x="738.3" y="204.8" font-size="7" fill="#505050" textLength="12.6" lengthAdjust="spacingAndGlyphs">blue</text>
<text x="798.4" y="187.8" font-size="7" fill="#505050" textLength="15.6" lengthAdjust="spacingAndGlyphs">black</text>
<text x="799.5" y="204.8" font-size="7" fill="#505050" textLength="12.4" lengthAdjust="spacingAndGlyphs">blue</text>
<text x="738.5" y="248.5" font-size="7" fill="#505050" textLength="7.6" lengthAdjust="spacingAndGlyphs">PE</text>
<text x="736" y="261" font-size="7" fill="#505050" textLength="40" lengthAdjust="spacingAndGlyphs">green/yellow</text>
<text x="779" y="261" font-size="7" fill="#505050" textLength="40" lengthAdjust="spacingAndGlyphs">green/yellow</text>
<text x="751.6" y="308.4" font-size="7" fill="#505050" textLength="45.6" lengthAdjust="spacingAndGlyphs">Voltage output</text>
<text x="751.6" y="317" font-size="7" fill="#505050" textLength="53.2" lengthAdjust="spacingAndGlyphs">+10 V max. 1.1 mA</text>
<text x="738" y="336.5" font-size="7" fill="#505050" textLength="38.3" lengthAdjust="spacingAndGlyphs">brown or red</text>
<text x="802" y="336.2" font-size="7" fill="#505050" textLength="10" lengthAdjust="spacingAndGlyphs">red</text>
<text x="742" y="353.2" font-size="7" fill="#505050" textLength="70" lengthAdjust="spacingAndGlyphs">Lin/PWM control input</text>
<text x="742" y="361.8" font-size="7" fill="#505050" textLength="51" lengthAdjust="spacingAndGlyphs">0-10 VDC / PWM</text>
<text x="736" y="377.6" font-size="7" fill="#505050" textLength="44" lengthAdjust="spacingAndGlyphs">black or yellow</text>
<text x="798" y="377.6" font-size="7" fill="#505050" textLength="19" lengthAdjust="spacingAndGlyphs">yellow</text>
<text x="738" y="405.6" font-size="7" fill="#505050" textLength="12.6" lengthAdjust="spacingAndGlyphs">GND</text>
<text x="738.5" y="415.8" font-size="7" fill="#505050" textLength="13" lengthAdjust="spacingAndGlyphs">blue</text>
<text x="799" y="415.8" font-size="7" fill="#505050" textLength="12.5" lengthAdjust="spacingAndGlyphs">blue</text>
<text x="741.7" y="433.3" font-size="7" fill="#505050" textLength="35" lengthAdjust="spacingAndGlyphs">Tach output</text>
<text x="741.7" y="441.8" font-size="7" fill="#505050" textLength="63.5" lengthAdjust="spacingAndGlyphs">1 pulse per revolution</text>
<text x="736" y="457" font-size="7" fill="#505050" textLength="17" lengthAdjust="spacingAndGlyphs">white</text>
<text x="799" y="457" font-size="7" fill="#505050" textLength="16.8" lengthAdjust="spacingAndGlyphs">white</text>
<text x="653.2" y="504.1" font-size="11.5" fill="#111" font-weight="bold" textLength="81" lengthAdjust="spacingAndGlyphs" stroke="#111" stroke-width="0.2">Connection box</text>
<text x="945.7" y="503.7" font-size="11.2" fill="#111" font-weight="bold" textLength="19.3" lengthAdjust="spacingAndGlyphs" stroke="#111" stroke-width="0.35">Fan</text>
<rect x="895.9" y="318" width="37.6" height="97.2" fill="#fff" stroke="#555" stroke-width="1.3"/>
<line x1="933.5" y1="325.8" x2="946" y2="325.8" stroke="#767676" stroke-width="1.2"/>
<line x1="945" y1="328.3" x2="947.5" y2="322.8" stroke="#3a3a3a" stroke-width="1"/>
<line x1="933.5" y1="367" x2="946" y2="367" stroke="#767676" stroke-width="1.2"/>
<line x1="945" y1="369.5" x2="947.5" y2="364" stroke="#3a3a3a" stroke-width="1"/>
<line x1="933.5" y1="408.3" x2="946" y2="408.3" stroke="#767676" stroke-width="1.2"/>
<line x1="945" y1="410.8" x2="947.5" y2="405.3" stroke="#3a3a3a" stroke-width="1"/>
<polyline points="903.1,363.5 911.1,363.5 911.1,374.4 903.1,374.4" fill="none" stroke="#3a3a3a" stroke-width="1.2"/>
<line x1="911.1" y1="363.5" x2="911.1" y2="374.4" stroke="#3a3a3a" stroke-width="2.4"/>
<polyline points="926,363.5 918,363.5 918,374.4 926,374.4" fill="none" stroke="#3a3a3a" stroke-width="1.2"/>
<line x1="918" y1="363.5" x2="918" y2="374.4" stroke="#3a3a3a" stroke-width="2.4"/>
<line x1="914.4" y1="359.9" x2="914.4" y2="377.7" stroke="#3a3a3a" stroke-width="1"/>
<rect x="843.3" y="364.8" width="10.4" height="4.4" fill="#fff" stroke="#444" stroke-width="0.9" rx="1"/>
<circle cx="862.8" cy="367" r="1.6" fill="#222"/>
<circle cx="879.7" cy="367" r="1.6" fill="#222"/>
<line x1="862.8" y1="367" x2="862.8" y2="381" stroke="#444" stroke-width="1.1"/>
<rect x="860.9" y="381" width="3.9" height="13.2" fill="#fff" stroke="#444" stroke-width="0.9"/>
<line x1="862.8" y1="394.2" x2="862.8" y2="408.3" stroke="#444" stroke-width="1.1"/>
<circle cx="862.8" cy="408.3" r="1.6" fill="#222"/>
<circle cx="879.7" cy="408.3" r="1.6" fill="#222"/>
<line x1="879.7" y1="367" x2="879.7" y2="385.6" stroke="#444" stroke-width="1.1"/>
<line x1="876.2" y1="385.6" x2="883.2" y2="385.6" stroke="#444" stroke-width="1.6"/>
<line x1="876.2" y1="388.2" x2="883.2" y2="388.2" stroke="#444" stroke-width="1.6"/>
<line x1="879.7" y1="388.2" x2="879.7" y2="474.3" stroke="#444" stroke-width="1.1"/>
<text x="881.8" y="399" font-size="7" fill="#505050" textLength="11.8" lengthAdjust="spacingAndGlyphs">1 µF</text>
<rect x="841.4" y="445.3" width="10.8" height="4" fill="#fff" stroke="#444" stroke-width="0.9" rx="1"/>
<circle cx="862.8" cy="447.3" r="1.6" fill="#222"/>
<polyline points="862.8,447.3 862.8,474.5 879.5,474.5" fill="none" stroke="#444" stroke-width="1.1"/>
<polygon points="862.8,459 859.2,465.2 866.4,465.2" fill="#111" stroke="#111" stroke-width="0.5"/>
<line x1="859.2" y1="458.9" x2="866.4" y2="458.9" stroke="#111" stroke-width="1.1"/>
<line x1="859.2" y1="458.9" x2="858.5" y2="458" stroke="#111" stroke-width="0.9"/>
<line x1="866.4" y1="458.9" x2="867.1" y2="459.8" stroke="#111" stroke-width="0.9"/>
<circle cx="879.5" cy="466.2" r="1.6" fill="#222"/>
<line x1="879.5" y1="466.2" x2="900" y2="466.2" stroke="#444" stroke-width="1.1"/>
<line x1="895.6" y1="447.3" x2="899.6" y2="447.3" stroke="#767676" stroke-width="1.1"/>
<rect x="895.6" y="443.6" width="25.6" height="25.6" fill="none" stroke="#444" stroke-width="1.1" stroke-dasharray="3 2"/>
<line x1="899.6" y1="447.3" x2="905.6" y2="454.6" stroke="#333" stroke-width="1.1"/>
<line x1="900" y1="466.2" x2="905.6" y2="459.2" stroke="#333" stroke-width="1.1"/>
<polygon points="900,466 900.6,462.6 902.8,464.3" fill="#333" stroke="#333" stroke-width="0.4"/>
<line x1="905.6" y1="453.5" x2="905.6" y2="460.5" stroke="#333" stroke-width="1.3"/>
<polygon points="909.2,453.3 916.5,453.3 912.9,458.9" fill="#111" stroke="#111" stroke-width="0.5"/>
<line x1="909" y1="459" x2="916.8" y2="459" stroke="#111" stroke-width="1"/>
<polyline points="932.4,447.6 912.9,447.6 912.9,465.3 932.4,465.3" fill="none" stroke="#444" stroke-width="1.1"/>
<line x1="931.5" y1="450.1" x2="934" y2="444.6" stroke="#3a3a3a" stroke-width="1"/>
<line x1="931.5" y1="467.8" x2="934" y2="462.3" stroke="#3a3a3a" stroke-width="1"/>
<text x="838.8" y="456.8" font-size="7" fill="#505050" textLength="19.4" lengthAdjust="spacingAndGlyphs">680 Ω</text>
<text x="864.4" y="456.8" font-size="7" fill="#505050" textLength="12.9" lengthAdjust="spacingAndGlyphs">47 V</text>
<text x="824.3" y="443.6" font-size="6.5" fill="#505050">I</text>
<text x="826.5" y="444.6" font-size="3.5" fill="#505050" textLength="4.5" lengthAdjust="spacingAndGlyphs">out</text>
<text x="831.5" y="443.6" font-size="7" fill="#505050" textLength="36.5" lengthAdjust="spacingAndGlyphs">max. 10 mA</text>
<line x1="719.3" y1="4.7" x2="896" y2="4.7" stroke="#767676" stroke-width="1.2"/>
<circle cx="763.6" cy="4.7" r="4.3" fill="#fff" stroke="#3a3a3a" stroke-width="1.1"/>
<line x1="761" y1="2.1" x2="766.2" y2="7.3" stroke="#3a3a3a" stroke-width="1.1"/>
<circle cx="786.4" cy="4.7" r="4.3" fill="#fff" stroke="#3a3a3a" stroke-width="1.1"/>
<line x1="783.8" y1="7.3" x2="789" y2="2.1" stroke="#3a3a3a" stroke-width="1.1"/>
<line x1="733.2" y1="0" x2="733.2" y2="27" stroke="#4a4a4a" stroke-width="1.3"/>
<line x1="733.2" y1="30" x2="733.2" y2="35" stroke="#4a4a4a" stroke-width="1.3"/>
<line x1="733.2" y1="39" x2="733.2" y2="47" stroke="#4a4a4a" stroke-width="1.3"/>
<line x1="818.8" y1="0" x2="818.8" y2="47" stroke="#4a4a4a" stroke-width="1.3"/>
<line x1="733.2" y1="47" x2="770.5" y2="47" stroke="#4a4a4a" stroke-width="1.3"/>
<line x1="773.5" y1="47" x2="779.5" y2="47" stroke="#4a4a4a" stroke-width="1.3"/>
<line x1="782.6" y1="47" x2="818.8" y2="47" stroke="#4a4a4a" stroke-width="1.3"/>
<line x1="756.3" y1="14.8" x2="794.6" y2="14.8" stroke="#1e1e1e" stroke-width="1.8" stroke-dasharray="4.2 9.4" stroke-dashoffset="-2"/>
<line x1="756.3" y1="10.5" x2="756.3" y2="14.8" stroke="#1e1e1e" stroke-width="1.8"/>
<line x1="794.6" y1="7.5" x2="794.6" y2="11.5" stroke="#1e1e1e" stroke-width="1.8"/>
<line x1="830.9" y1="0" x2="830.9" y2="65.3" stroke="#1e1e1e" stroke-width="1.9" stroke-dasharray="4.6 9.1" stroke-dashoffset="-3"/>
<rect x="836.3" y="2.7" width="10.8" height="4" fill="#fff" stroke="#444" stroke-width="0.9" rx="1"/>
<circle cx="862" cy="4.7" r="1.6" fill="#222"/>
<polyline points="862,4.7 862,31.9 877.9,31.9" fill="none" stroke="#444" stroke-width="1.1"/>
<line x1="877.9" y1="-2" x2="877.9" y2="31.9" stroke="#444" stroke-width="1.1"/>
<polygon points="862,16.4 858.4,22.6 865.6,22.6" fill="#111" stroke="#111" stroke-width="0.5"/>
<line x1="858.4" y1="16.3" x2="865.6" y2="16.3" stroke="#111" stroke-width="1.1"/>
<line x1="858.4" y1="16.3" x2="857.7" y2="15.4" stroke="#111" stroke-width="0.9"/>
<line x1="865.6" y1="16.3" x2="866.3" y2="17.2" stroke="#111" stroke-width="0.9"/>
<circle cx="877.9" cy="23.6" r="1.6" fill="#222"/>
<line x1="877.9" y1="23.6" x2="899.04" y2="23.6" stroke="#444" stroke-width="1.1"/>
<line x1="894.64" y1="4.7" x2="898.64" y2="4.7" stroke="#767676" stroke-width="1.1"/>
<rect x="894.64" y="1" width="25.6" height="25.6" fill="none" stroke="#444" stroke-width="1.1" stroke-dasharray="3 2"/>
<line x1="898.64" y1="4.7" x2="904.64" y2="12" stroke="#333" stroke-width="1.1"/>
<line x1="899.04" y1="23.6" x2="904.64" y2="16.6" stroke="#333" stroke-width="1.1"/>
<polygon points="899.04,23.4 899.64,20 901.84,21.7" fill="#333" stroke="#333" stroke-width="0.4"/>
<line x1="904.64" y1="10.9" x2="904.64" y2="17.9" stroke="#333" stroke-width="1.3"/>
<polygon points="908.24,10.7 915.54,10.7 911.94,16.3" fill="#111" stroke="#111" stroke-width="0.5"/>
<line x1="908.04" y1="16.4" x2="915.84" y2="16.4" stroke="#111" stroke-width="1"/>
<polyline points="932.4,5 911.94,5 911.94,22.7 932.4,22.7" fill="none" stroke="#444" stroke-width="1.1"/>
<line x1="931.5" y1="7.5" x2="934" y2="2" stroke="#3a3a3a" stroke-width="1"/>
<line x1="931.5" y1="25.2" x2="934" y2="19.7" stroke="#3a3a3a" stroke-width="1"/>
<text x="833.7" y="14.2" font-size="7" fill="#505050" textLength="19.4" lengthAdjust="spacingAndGlyphs">680 Ω</text>
<text x="863.6" y="14.2" font-size="7" fill="#505050" textLength="12.9" lengthAdjust="spacingAndGlyphs">47 V</text>
<text x="797.2" y="13.9" font-size="7" fill="#505050" textLength="17.5" lengthAdjust="spacingAndGlyphs">white</text>
<text x="741" y="-0.8" font-size="7" fill="#505050" textLength="63.5" lengthAdjust="spacingAndGlyphs">1 pulse per revolution</text>
<text x="819.3" y="0.5" font-size="6.5" fill="#505050">I</text>
<text x="826.5" y="0.5" font-size="7" fill="#505050" textLength="36.5" lengthAdjust="spacingAndGlyphs">max. 10 mA</text>
<text x="655.6" y="60.5" font-size="11" fill="#111" font-weight="bold" textLength="80.4" lengthAdjust="spacingAndGlyphs" stroke="#111" stroke-width="0.2">Connection box</text>
<text x="944.5" y="60.8" font-size="10.8" fill="#111" font-weight="bold" textLength="18.6" lengthAdjust="spacingAndGlyphs" stroke="#111" stroke-width="0.35">Fan</text>
<line x1="998.5" y1="0" x2="998.5" y2="558" stroke="#d2d2d2" stroke-width="1"/>
<rect x="999" y="0" width="1" height="558" fill="#f4f4f4" stroke="none" stroke-width="0"/>
</svg>
</body></html>
